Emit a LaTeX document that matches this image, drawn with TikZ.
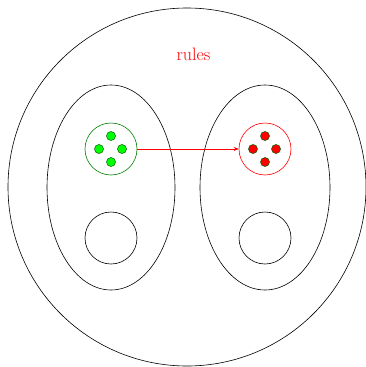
\documentclass[tikz,border=0pt]{standalone}
\usetikzlibrary{arrows.meta}
\begin{document}
\begin{tikzpicture}[x=1pt,y=-1pt,
  outline/.style={draw=black,line width=0.6pt},
  token/.style={circle,draw=black!40!green!60!black,line width=0.5pt,minimum size=9pt,inner sep=0pt},
  greentok/.style={token,fill=green},
  redtok/.style={token,fill=red},
  place/.style={circle,line width=0.6pt,minimum size=52pt,inner sep=0pt}]
\useasboundingbox (0,0) rectangle (366,367);
% outer region
\draw[outline] (187,187) circle (179);
\node[red,font=\fontsize{18}{21}\selectfont] (rules) at (193.5,54) {rules};
% two compartments
\draw[outline] (111,187.5) ellipse (64 and 102.5);
\draw[outline] (265,187.5) ellipse (65 and 102.5);
% places
\node[place,draw=black!50!green] (lp) at (111,149) {};
\node[place,draw=black] (lq) at (111,238) {};
\node[place,draw=red] (rp) at (265,149) {};
\node[place,draw=black] (rq) at (265,238) {};
% tokens
\foreach \dx/\dy [count=\i] in {0/-13,-12/0,11/0,0/13}{
  \node[greentok] (g\i) at (111+\dx,149+\dy) {};
  \node[redtok] (r\i) at (265+\dx,149+\dy) {};
}
% transfer
\draw[red,line width=0.6pt,-{Stealth[length=5pt,width=4pt]}] (lp) -- (rp);
\end{tikzpicture}
\end{document}
